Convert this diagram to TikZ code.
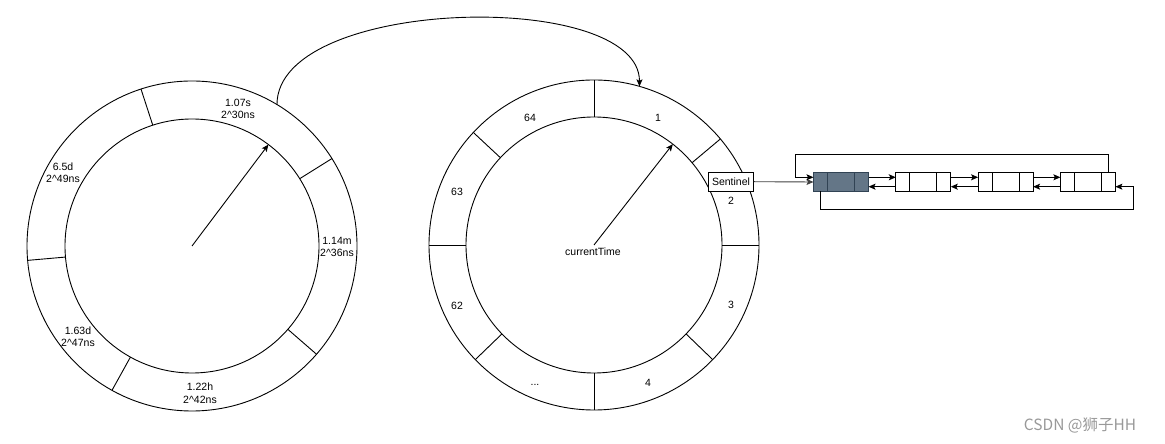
\documentclass[tikz,border=0pt]{standalone}
\usepackage{fontspec}
\setmainfont{Liberation Sans}
\newfontfamily\cjkfont{Noto Sans CJK SC}
\usetikzlibrary{arrows.meta, positioning, calc}

\definecolor{headfill}{HTML}{647687}
\definecolor{headdraw}{HTML}{314354}
\definecolor{markgray}{HTML}{999999}

\begin{document}
\begin{tikzpicture}[
        x=1pt, y=1pt,
        wheel/.style={
            draw,
            circle,
            inner sep=0pt,
            outer sep=0pt,
            line width=0.9pt
        },
        spoke/.style={
            line width=0.9pt
        },
        pointer/.style={
            -{Stealth[length=7pt, width=6pt, inset=1.5pt]},
            line width=0.9pt
        },
        slotlabel/.style={
            align=center,
            inner sep=0pt,
            font=\fontsize{10.5}{12.5}\selectfont
        },
        listnode/.style={
            draw,
            minimum width=55pt,
            minimum height=19pt,
            inner sep=0pt,
            outer sep=0pt,
            line width=0.9pt
        },
        link/.style={
            -{Stealth[length=7pt, width=6pt, inset=1.5pt]},
            line width=0.9pt
        }
    ]

        \useasboundingbox (0,0) rectangle (1165,444);

        % ---------------------------------------------------------------------
        % Upper wheel (left)
        % ---------------------------------------------------------------------

        \node[wheel, minimum size=330pt] (lout) at (192,198) {};
        \node[wheel, minimum size=254pt] (lin) at (192,198) {};

        \foreach \a in {108, 32, 319, 241, 185}
            \draw[spoke] (lin.\a) -- (lout.\a);

        \node[slotlabel] (l1) at (238,335) {1.07s\\2\^{}30ns};
        \node[slotlabel] (l2) at (337,197) {1.14m\\2\^{}36ns};
        \node[slotlabel] (l3) at (200,51) {1.22h\\2\^{}42ns};
        \node[slotlabel] (l4) at (78,107) {1.63d\\2\^{}47ns};
        \node[slotlabel] (l5) at (63,271) {6.5d\\2\^{}49ns};

        \draw[pointer] (lout.center) -- (lin.53);

        % ---------------------------------------------------------------------
        % Lower wheel (right)
        % ---------------------------------------------------------------------

        \node[wheel, minimum size=330pt] (rout) at (594,199) {};
        \node[wheel, minimum size=256pt] (rin) at (594,199) {};

        \foreach \a in {90, 40, 0, 316, 270, 224, 180, 137}
            \draw[spoke] (rin.\a) -- (rout.\a);

        \node[slotlabel] (s64) at (530,326) {64};
        \node[slotlabel] (s1) at (658,326) {1};
        \node[slotlabel] (s2) at (731,243) {2};
        \node[slotlabel] (s3) at (731,139) {3};
        \node[slotlabel] (s4) at (648,61) {4};
        \node[slotlabel] (sdots) at (535,59) {...};
        \node[slotlabel] (s62) at (457,138) {62};
        \node[slotlabel] (s63) at (457,252) {63};

        \node[slotlabel] (now) at (593,192) {currentTime};
        \draw[pointer] (rout.center) -- (rin.52);

        % overflow into the next wheel
        \draw[pointer]
            (lout.59) .. controls +(0,108) and +(0,98) .. (rout.74);

        % ---------------------------------------------------------------------
        % Sentinel and the bucket list
        % ---------------------------------------------------------------------

        \node[
            draw,
            fill=white,
            line width=0.9pt,
            minimum width=45pt,
            minimum height=19pt,
            inner sep=1pt,
            font=\fontsize{10.5}{12.5}\selectfont
        ] (sentinel) at (731,262.3) {Sentinel};

        \node[listnode, fill=headfill, draw=headdraw] (n1) at (841,262) {};
        \node[listnode, right=27.3pt of n1] (n2) {};
        \node[listnode, right=27.3pt of n2] (n3) {};
        \node[listnode, right=27.3pt of n3] (n4) {};

        \foreach \n/\c in {1/headdraw, 2/black, 3/black, 4/black} {
            \draw[line width=0.9pt, \c]
                ($(n\n.north west)+(14,0)$) -- ($(n\n.south west)+(14,0)$);
            \draw[line width=0.9pt, \c]
                ($(n\n.north east)+(-14,0)$) -- ($(n\n.south east)+(-14,0)$);
        }

        \foreach \a/\b in {n1/n2, n2/n3, n3/n4} {
            \draw[link] ([yshift=4.7pt]\a.east) -- ([yshift=4.7pt]\b.west);
            \draw[link] ([yshift=-4.7pt]\b.west) -- ([yshift=-4.7pt]\a.east);
        }

        \draw[link, black!75] (sentinel.east) -- (n1.west);

        \draw[link]
            ([xshift=21pt]n4.north) -- ++(0,18)
            -| ([xshift=-18pt, yshift=4.7pt]n1.west)
            -- ([yshift=4.7pt]n1.west);

        \draw[link]
            ([xshift=-21pt]n1.south) -- ++(0,-17.5)
            -| ([xshift=18pt, yshift=-4.7pt]n4.east)
            -- ([yshift=-4.7pt]n4.east);

        % ---------------------------------------------------------------------
        % Watermark
        % ---------------------------------------------------------------------

        \node[
            text=markgray,
            inner sep=0pt,
            font=\cjkfont\fontsize{15.5}{17}\selectfont
        ] (mark) at (1080,19) {CSDN @狮子HH};

    \end{tikzpicture}
\end{document}
